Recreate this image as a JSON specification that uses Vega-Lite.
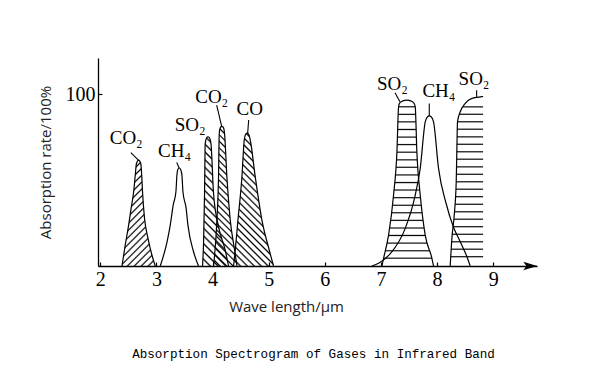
{
  "$schema": "https://vega.github.io/schema/vega-lite/v6.json",
  "width": 439,
  "height": 208,
  "autosize": {"type": "none"},
  "padding": {"left": 98, "top": 58, "right": 53, "bottom": 113},
  "background": "white",
  "config": {"view": {"stroke": null}},
  "title": {"text": "Absorption Spectrogram of Gases in Infrared Band", "orient": "bottom", "anchor": "middle", "font": "Liberation Mono", "fontSize": 12.6, "fontWeight": "normal", "color": "#000", "offset": 34, "dx": -4},
  "datasets": {
    "curves": [
      {"id": "CO2a", "x": 2.387, "y": 0}, {"id": "CO2a", "x": 2.445, "y": 12.2}, {"id": "CO2a", "x": 2.506, "y": 23.8}, {"id": "CO2a", "x": 2.55, "y": 33.5}, {"id": "CO2a", "x": 2.595, "y": 43.2}, {"id": "CO2a", "x": 2.624, "y": 52.9}, {"id": "CO2a", "x": 2.645, "y": 59.6}, {"id": "CO2a", "x": 2.684, "y": 61.6}, {"id": "CO2a", "x": 2.722, "y": 59.6}, {"id": "CO2a", "x": 2.74, "y": 52}, {"id": "CO2a", "x": 2.753, "y": 43.2}, {"id": "CO2a", "x": 2.789, "y": 27.7}, {"id": "CO2a", "x": 2.851, "y": 16.1}, {"id": "CO2a", "x": 2.92, "y": 6.4}, {"id": "CO2a", "x": 2.98, "y": 0},
      {"id": "CH4a", "x": 3.069, "y": 0}, {"id": "CH4a", "x": 3.19, "y": 14.1}, {"id": "CH4a", "x": 3.247, "y": 23.8}, {"id": "CH4a", "x": 3.30, "y": 35.5}, {"id": "CH4a", "x": 3.348, "y": 43.2}, {"id": "CH4a", "x": 3.366, "y": 52.9}, {"id": "CH4a", "x": 3.38, "y": 56}, {"id": "CH4a", "x": 3.407, "y": 57}, {"id": "CH4a", "x": 3.434, "y": 56}, {"id": "CH4a", "x": 3.455, "y": 52.9}, {"id": "CH4a", "x": 3.473, "y": 43.2}, {"id": "CH4a", "x": 3.53, "y": 33.5}, {"id": "CH4a", "x": 3.562, "y": 23.8}, {"id": "CH4a", "x": 3.662, "y": 8.3}, {"id": "CH4a", "x": 3.751, "y": 0},
      {"id": "SO2a", "x": 3.822, "y": 0}, {"id": "SO2a", "x": 3.84, "y": 13.2}, {"id": "SO2a", "x": 3.858, "y": 42.3}, {"id": "SO2a", "x": 3.87, "y": 71.3}, {"id": "SO2a", "x": 3.895, "y": 74.6}, {"id": "SO2a", "x": 3.918, "y": 75.2}, {"id": "SO2a", "x": 3.945, "y": 74.6}, {"id": "SO2a", "x": 3.972, "y": 71.3}, {"id": "SO2a", "x": 4.018, "y": 42.3}, {"id": "SO2a", "x": 4.107, "y": 22.9}, {"id": "SO2a", "x": 4.226, "y": 9.3}, {"id": "SO2a", "x": 4.285, "y": 0},
      {"id": "CO2b", "x": 4.018, "y": 0}, {"id": "CO2b", "x": 4.078, "y": 26.7}, {"id": "CO2b", "x": 4.107, "y": 51.9}, {"id": "CO2b", "x": 4.12, "y": 77.1}, {"id": "CO2b", "x": 4.14, "y": 80.5}, {"id": "CO2b", "x": 4.168, "y": 81.2}, {"id": "CO2b", "x": 4.195, "y": 80.5}, {"id": "CO2b", "x": 4.214, "y": 77.1}, {"id": "CO2b", "x": 4.256, "y": 51.9}, {"id": "CO2b", "x": 4.316, "y": 26.7}, {"id": "CO2b", "x": 4.393, "y": 9.3}, {"id": "CO2b", "x": 4.435, "y": 0},
      {"id": "CO", "x": 4.375, "y": 0}, {"id": "CO", "x": 4.405, "y": 9.3}, {"id": "CO", "x": 4.453, "y": 26.7}, {"id": "CO", "x": 4.524, "y": 51.9}, {"id": "CO", "x": 4.565, "y": 73.3}, {"id": "CO", "x": 4.59, "y": 76.6}, {"id": "CO", "x": 4.613, "y": 77.3}, {"id": "CO", "x": 4.645, "y": 76.6}, {"id": "CO", "x": 4.672, "y": 73.3}, {"id": "CO", "x": 4.761, "y": 51.9}, {"id": "CO", "x": 4.88, "y": 26.7}, {"id": "CO", "x": 5.01, "y": 9.3}, {"id": "CO", "x": 5.087, "y": 0},
      {"id": "SO2b", "x": 7.018, "y": 0}, {"id": "SO2b", "x": 7.047, "y": 4.5}, {"id": "SO2b", "x": 7.136, "y": 18}, {"id": "SO2b", "x": 7.225, "y": 41.3}, {"id": "SO2b", "x": 7.285, "y": 66.5}, {"id": "SO2b", "x": 7.314, "y": 92.6}, {"id": "SO2b", "x": 7.33, "y": 94.6}, {"id": "SO2b", "x": 7.38, "y": 95.9}, {"id": "SO2b", "x": 7.463, "y": 96.5}, {"id": "SO2b", "x": 7.54, "y": 95.9}, {"id": "SO2b", "x": 7.59, "y": 94.6}, {"id": "SO2b", "x": 7.611, "y": 92.6}, {"id": "SO2b", "x": 7.64, "y": 66.5}, {"id": "SO2b", "x": 7.70, "y": 41.3}, {"id": "SO2b", "x": 7.789, "y": 18}, {"id": "SO2b", "x": 7.908, "y": 4.5}, {"id": "SO2b", "x": 7.937, "y": 0},
      {"id": "CH4b", "x": 6.84, "y": 0}, {"id": "CH4b", "x": 6.958, "y": 1.6}, {"id": "CH4b", "x": 7.196, "y": 8.3}, {"id": "CH4b", "x": 7.433, "y": 21.9}, {"id": "CH4b", "x": 7.611, "y": 41.3}, {"id": "CH4b", "x": 7.70, "y": 56.8}, {"id": "CH4b", "x": 7.789, "y": 83.9}, {"id": "CH4b", "x": 7.83, "y": 86.8}, {"id": "CH4b", "x": 7.86, "y": 87.3}, {"id": "CH4b", "x": 7.895, "y": 86.8}, {"id": "CH4b", "x": 7.937, "y": 83.9}, {"id": "CH4b", "x": 8.026, "y": 56.8}, {"id": "CH4b", "x": 8.16, "y": 36.5}, {"id": "CH4b", "x": 8.293, "y": 22.5}, {"id": "CH4b", "x": 8.413, "y": 14.1}, {"id": "CH4b", "x": 8.532, "y": 5.4}, {"id": "CH4b", "x": 8.59, "y": 0},
      {"id": "SO2c", "x": 8.234, "y": 0}, {"id": "SO2c", "x": 8.264, "y": 16.1}, {"id": "SO2c", "x": 8.306, "y": 29.7}, {"id": "SO2c", "x": 8.341, "y": 49}, {"id": "SO2c", "x": 8.353, "y": 68.4}, {"id": "SO2c", "x": 8.364, "y": 83.9}, {"id": "SO2c", "x": 8.413, "y": 89.7}, {"id": "SO2c", "x": 8.502, "y": 94.6}, {"id": "SO2c", "x": 8.621, "y": 97.5}, {"id": "SO2c", "x": 8.80, "y": 98.5}, {"id": "SO2c", "x": 8.82, "y": 98.6}
    ],
    "labels": [
      {"label": "CO₂", "x": 2.463, "y": 70.9},
      {"label": "CH₄", "x": 3.324, "y": 63.5},
      {"label": "SO₂", "x": 3.603, "y": 78.7},
      {"label": "CO₂", "x": 3.986, "y": 94.6},
      {"label": "CO", "x": 4.663, "y": 87.8},
      {"label": "SO₂", "x": 7.205, "y": 102.3},
      {"label": "CH₄", "x": 8.033, "y": 98.1},
      {"label": "SO₂", "x": 8.658, "y": 105.2}
    ],
    "leaders": [
      {"x": 2.545, "y": 66.0, "x2": 2.68, "y2": 61.6},
      {"x": 3.362, "y": 60.3, "x2": 3.405, "y2": 57.0},
      {"x": 4.074, "y": 93.6, "x2": 4.163, "y2": 81.2},
      {"x": 4.644, "y": 84.9, "x2": 4.626, "y2": 77.3},
      {"x": 7.25, "y": 100.8, "x2": 7.339, "y2": 95.5},
      {"x": 7.861, "y": 94.6, "x2": 7.861, "y2": 87.3},
      {"x": 8.705, "y": 102.3, "x2": 8.705, "y2": 98.2}
    ],
    "arrow": [{"x": 9.66, "y": 0}]
  },
  "data": {"name": "curves"},
  "encoding": {
    "x": {"field": "x", "type": "quantitative",
      "scale": {"domain": [1.96, 9.78], "nice": false, "zero": false},
      "axis": {"values": [2, 3, 4, 5, 6, 7, 8, 9], "title": "Wave length/μm", "grid": false, "tickSize": -4, "tickColor": "#000", "tickWidth": 1.2, "domainColor": "#000", "domainWidth": 1.3, "labelFont": "Liberation Serif", "labelFontSize": 20, "labelColor": "#000", "labelPadding": 7, "labelFlush": false, "labelOverlap": false, "titleFont": "Open Sans", "titleFontSize": 15, "titleFontWeight": "normal", "titleColor": "#222", "titleX": 188, "titleY": 45, "titleBaseline": "alphabetic", "titleAlign": "center", "titleAnchor": null}},
    "y": {"field": "y", "type": "quantitative",
      "scale": {"domain": [0, 121], "nice": false},
      "axis": {"values": [100], "title": "Absorption rate/100%", "grid": false, "tickSize": -4, "tickColor": "#000", "tickWidth": 1.2, "domainColor": "#000", "domainWidth": 1.3, "labelFont": "Liberation Serif", "labelFontSize": 20, "labelColor": "#000", "labelPadding": 7, "labelFlush": false, "titleFont": "Open Sans", "titleFontSize": 15, "titleFontWeight": "normal", "titleColor": "#222", "titleX": -47.5, "titleY": 104, "titleAngle": -90, "titleBaseline": "alphabetic", "titleAlign": "center", "titleAnchor": null}}
  },
  "layer": [
    {"transform": [{"filter": "datum.id === 'CO2a'"}],
     "mark": {"type": "area", "interpolate": "monotone", "color": {"gradient": "linear", "x1": 0, "y1": 0, "x2": 0.376, "y2": 1.196, "stops": [
      {"offset": 0, "color": "rgba(0,0,0,0)"},
      {"offset": 0.038, "color": "rgba(0,0,0,0)"}, {"offset": 0.05, "color": "#000"}, {"offset": 0.062, "color": "rgba(0,0,0,0)"},
      {"offset": 0.088, "color": "rgba(0,0,0,0)"}, {"offset": 0.1, "color": "#000"}, {"offset": 0.112, "color": "rgba(0,0,0,0)"},
      {"offset": 0.138, "color": "rgba(0,0,0,0)"}, {"offset": 0.15, "color": "#000"}, {"offset": 0.162, "color": "rgba(0,0,0,0)"},
      {"offset": 0.188, "color": "rgba(0,0,0,0)"}, {"offset": 0.2, "color": "#000"}, {"offset": 0.212, "color": "rgba(0,0,0,0)"},
      {"offset": 0.238, "color": "rgba(0,0,0,0)"}, {"offset": 0.25, "color": "#000"}, {"offset": 0.262, "color": "rgba(0,0,0,0)"},
      {"offset": 0.288, "color": "rgba(0,0,0,0)"}, {"offset": 0.3, "color": "#000"}, {"offset": 0.312, "color": "rgba(0,0,0,0)"},
      {"offset": 0.338, "color": "rgba(0,0,0,0)"}, {"offset": 0.35, "color": "#000"}, {"offset": 0.362, "color": "rgba(0,0,0,0)"},
      {"offset": 0.388, "color": "rgba(0,0,0,0)"}, {"offset": 0.4, "color": "#000"}, {"offset": 0.412, "color": "rgba(0,0,0,0)"},
      {"offset": 0.438, "color": "rgba(0,0,0,0)"}, {"offset": 0.45, "color": "#000"}, {"offset": 0.462, "color": "rgba(0,0,0,0)"},
      {"offset": 0.488, "color": "rgba(0,0,0,0)"}, {"offset": 0.5, "color": "#000"}, {"offset": 0.512, "color": "rgba(0,0,0,0)"},
      {"offset": 0.538, "color": "rgba(0,0,0,0)"}, {"offset": 0.55, "color": "#000"}, {"offset": 0.562, "color": "rgba(0,0,0,0)"},
      {"offset": 0.588, "color": "rgba(0,0,0,0)"}, {"offset": 0.6, "color": "#000"}, {"offset": 0.612, "color": "rgba(0,0,0,0)"},
      {"offset": 0.638, "color": "rgba(0,0,0,0)"}, {"offset": 0.65, "color": "#000"}, {"offset": 0.662, "color": "rgba(0,0,0,0)"},
      {"offset": 0.688, "color": "rgba(0,0,0,0)"}, {"offset": 0.7, "color": "#000"}, {"offset": 0.712, "color": "rgba(0,0,0,0)"},
      {"offset": 0.738, "color": "rgba(0,0,0,0)"}, {"offset": 0.75, "color": "#000"}, {"offset": 0.762, "color": "rgba(0,0,0,0)"},
      {"offset": 0.788, "color": "rgba(0,0,0,0)"}, {"offset": 0.8, "color": "#000"}, {"offset": 0.812, "color": "rgba(0,0,0,0)"},
      {"offset": 0.838, "color": "rgba(0,0,0,0)"}, {"offset": 0.85, "color": "#000"}, {"offset": 0.862, "color": "rgba(0,0,0,0)"},
      {"offset": 0.888, "color": "rgba(0,0,0,0)"}, {"offset": 0.9, "color": "#000"}, {"offset": 0.912, "color": "rgba(0,0,0,0)"},
      {"offset": 0.938, "color": "rgba(0,0,0,0)"}, {"offset": 0.95, "color": "#000"}, {"offset": 0.962, "color": "rgba(0,0,0,0)"},
      {"offset": 1, "color": "rgba(0,0,0,0)"}]}}},
    {"transform": [{"filter": "datum.id === 'SO2a'"}],
     "mark": {"type": "area", "interpolate": "monotone", "color": {"gradient": "linear", "x1": 0, "y1": 1, "x2": 0.232, "y2": -0.155, "stops": [
      {"offset": 0, "color": "rgba(0,0,0,0)"},
      {"offset": 0.038, "color": "rgba(0,0,0,0)"}, {"offset": 0.05, "color": "#000"}, {"offset": 0.062, "color": "rgba(0,0,0,0)"},
      {"offset": 0.088, "color": "rgba(0,0,0,0)"}, {"offset": 0.1, "color": "#000"}, {"offset": 0.112, "color": "rgba(0,0,0,0)"},
      {"offset": 0.138, "color": "rgba(0,0,0,0)"}, {"offset": 0.15, "color": "#000"}, {"offset": 0.162, "color": "rgba(0,0,0,0)"},
      {"offset": 0.188, "color": "rgba(0,0,0,0)"}, {"offset": 0.2, "color": "#000"}, {"offset": 0.212, "color": "rgba(0,0,0,0)"},
      {"offset": 0.238, "color": "rgba(0,0,0,0)"}, {"offset": 0.25, "color": "#000"}, {"offset": 0.262, "color": "rgba(0,0,0,0)"},
      {"offset": 0.288, "color": "rgba(0,0,0,0)"}, {"offset": 0.3, "color": "#000"}, {"offset": 0.312, "color": "rgba(0,0,0,0)"},
      {"offset": 0.338, "color": "rgba(0,0,0,0)"}, {"offset": 0.35, "color": "#000"}, {"offset": 0.362, "color": "rgba(0,0,0,0)"},
      {"offset": 0.388, "color": "rgba(0,0,0,0)"}, {"offset": 0.4, "color": "#000"}, {"offset": 0.412, "color": "rgba(0,0,0,0)"},
      {"offset": 0.438, "color": "rgba(0,0,0,0)"}, {"offset": 0.45, "color": "#000"}, {"offset": 0.462, "color": "rgba(0,0,0,0)"},
      {"offset": 0.488, "color": "rgba(0,0,0,0)"}, {"offset": 0.5, "color": "#000"}, {"offset": 0.512, "color": "rgba(0,0,0,0)"},
      {"offset": 0.538, "color": "rgba(0,0,0,0)"}, {"offset": 0.55, "color": "#000"}, {"offset": 0.562, "color": "rgba(0,0,0,0)"},
      {"offset": 0.588, "color": "rgba(0,0,0,0)"}, {"offset": 0.6, "color": "#000"}, {"offset": 0.612, "color": "rgba(0,0,0,0)"},
      {"offset": 0.638, "color": "rgba(0,0,0,0)"}, {"offset": 0.65, "color": "#000"}, {"offset": 0.662, "color": "rgba(0,0,0,0)"},
      {"offset": 0.688, "color": "rgba(0,0,0,0)"}, {"offset": 0.7, "color": "#000"}, {"offset": 0.712, "color": "rgba(0,0,0,0)"},
      {"offset": 0.738, "color": "rgba(0,0,0,0)"}, {"offset": 0.75, "color": "#000"}, {"offset": 0.762, "color": "rgba(0,0,0,0)"},
      {"offset": 0.788, "color": "rgba(0,0,0,0)"}, {"offset": 0.8, "color": "#000"}, {"offset": 0.812, "color": "rgba(0,0,0,0)"},
      {"offset": 0.838, "color": "rgba(0,0,0,0)"}, {"offset": 0.85, "color": "#000"}, {"offset": 0.862, "color": "rgba(0,0,0,0)"},
      {"offset": 0.888, "color": "rgba(0,0,0,0)"}, {"offset": 0.9, "color": "#000"}, {"offset": 0.912, "color": "rgba(0,0,0,0)"},
      {"offset": 0.938, "color": "rgba(0,0,0,0)"}, {"offset": 0.95, "color": "#000"}, {"offset": 0.962, "color": "rgba(0,0,0,0)"},
      {"offset": 1, "color": "rgba(0,0,0,0)"}]}}},
    {"transform": [{"filter": "datum.id === 'CO2b'"}],
     "mark": {"type": "area", "interpolate": "monotone", "color": {"gradient": "linear", "x1": 0, "y1": 1, "x2": 0.19, "y2": -0.136, "stops": [
      {"offset": 0, "color": "rgba(0,0,0,0)"},
      {"offset": 0.03, "color": "rgba(0,0,0,0)"}, {"offset": 0.04, "color": "#000"}, {"offset": 0.05, "color": "rgba(0,0,0,0)"},
      {"offset": 0.07, "color": "rgba(0,0,0,0)"}, {"offset": 0.08, "color": "#000"}, {"offset": 0.09, "color": "rgba(0,0,0,0)"},
      {"offset": 0.11, "color": "rgba(0,0,0,0)"}, {"offset": 0.12, "color": "#000"}, {"offset": 0.13, "color": "rgba(0,0,0,0)"},
      {"offset": 0.15, "color": "rgba(0,0,0,0)"}, {"offset": 0.16, "color": "#000"}, {"offset": 0.17, "color": "rgba(0,0,0,0)"},
      {"offset": 0.19, "color": "rgba(0,0,0,0)"}, {"offset": 0.2, "color": "#000"}, {"offset": 0.21, "color": "rgba(0,0,0,0)"},
      {"offset": 0.23, "color": "rgba(0,0,0,0)"}, {"offset": 0.24, "color": "#000"}, {"offset": 0.25, "color": "rgba(0,0,0,0)"},
      {"offset": 0.27, "color": "rgba(0,0,0,0)"}, {"offset": 0.28, "color": "#000"}, {"offset": 0.29, "color": "rgba(0,0,0,0)"},
      {"offset": 0.31, "color": "rgba(0,0,0,0)"}, {"offset": 0.32, "color": "#000"}, {"offset": 0.33, "color": "rgba(0,0,0,0)"},
      {"offset": 0.35, "color": "rgba(0,0,0,0)"}, {"offset": 0.36, "color": "#000"}, {"offset": 0.37, "color": "rgba(0,0,0,0)"},
      {"offset": 0.39, "color": "rgba(0,0,0,0)"}, {"offset": 0.4, "color": "#000"}, {"offset": 0.41, "color": "rgba(0,0,0,0)"},
      {"offset": 0.43, "color": "rgba(0,0,0,0)"}, {"offset": 0.44, "color": "#000"}, {"offset": 0.45, "color": "rgba(0,0,0,0)"},
      {"offset": 0.47, "color": "rgba(0,0,0,0)"}, {"offset": 0.48, "color": "#000"}, {"offset": 0.49, "color": "rgba(0,0,0,0)"},
      {"offset": 0.51, "color": "rgba(0,0,0,0)"}, {"offset": 0.52, "color": "#000"}, {"offset": 0.53, "color": "rgba(0,0,0,0)"},
      {"offset": 0.55, "color": "rgba(0,0,0,0)"}, {"offset": 0.56, "color": "#000"}, {"offset": 0.57, "color": "rgba(0,0,0,0)"},
      {"offset": 0.59, "color": "rgba(0,0,0,0)"}, {"offset": 0.6, "color": "#000"}, {"offset": 0.61, "color": "rgba(0,0,0,0)"},
      {"offset": 0.63, "color": "rgba(0,0,0,0)"}, {"offset": 0.64, "color": "#000"}, {"offset": 0.65, "color": "rgba(0,0,0,0)"},
      {"offset": 0.67, "color": "rgba(0,0,0,0)"}, {"offset": 0.68, "color": "#000"}, {"offset": 0.69, "color": "rgba(0,0,0,0)"},
      {"offset": 0.71, "color": "rgba(0,0,0,0)"}, {"offset": 0.72, "color": "#000"}, {"offset": 0.73, "color": "rgba(0,0,0,0)"},
      {"offset": 0.75, "color": "rgba(0,0,0,0)"}, {"offset": 0.76, "color": "#000"}, {"offset": 0.77, "color": "rgba(0,0,0,0)"},
      {"offset": 0.79, "color": "rgba(0,0,0,0)"}, {"offset": 0.8, "color": "#000"}, {"offset": 0.81, "color": "rgba(0,0,0,0)"},
      {"offset": 0.83, "color": "rgba(0,0,0,0)"}, {"offset": 0.84, "color": "#000"}, {"offset": 0.85, "color": "rgba(0,0,0,0)"},
      {"offset": 0.87, "color": "rgba(0,0,0,0)"}, {"offset": 0.88, "color": "#000"}, {"offset": 0.89, "color": "rgba(0,0,0,0)"},
      {"offset": 0.91, "color": "rgba(0,0,0,0)"}, {"offset": 0.92, "color": "#000"}, {"offset": 0.93, "color": "rgba(0,0,0,0)"},
      {"offset": 0.95, "color": "rgba(0,0,0,0)"}, {"offset": 0.96, "color": "#000"}, {"offset": 0.97, "color": "rgba(0,0,0,0)"},
      {"offset": 1, "color": "rgba(0,0,0,0)"}]}}},
    {"transform": [{"filter": "datum.id === 'CO'"}],
     "mark": {"type": "area", "interpolate": "monotone", "color": {"gradient": "linear", "x1": 0, "y1": 1, "x2": 0.359, "y2": -0.193, "stops": [
      {"offset": 0, "color": "rgba(0,0,0,0)"},
      {"offset": 0.03, "color": "rgba(0,0,0,0)"}, {"offset": 0.04, "color": "#000"}, {"offset": 0.05, "color": "rgba(0,0,0,0)"},
      {"offset": 0.07, "color": "rgba(0,0,0,0)"}, {"offset": 0.08, "color": "#000"}, {"offset": 0.09, "color": "rgba(0,0,0,0)"},
      {"offset": 0.11, "color": "rgba(0,0,0,0)"}, {"offset": 0.12, "color": "#000"}, {"offset": 0.13, "color": "rgba(0,0,0,0)"},
      {"offset": 0.15, "color": "rgba(0,0,0,0)"}, {"offset": 0.16, "color": "#000"}, {"offset": 0.17, "color": "rgba(0,0,0,0)"},
      {"offset": 0.19, "color": "rgba(0,0,0,0)"}, {"offset": 0.2, "color": "#000"}, {"offset": 0.21, "color": "rgba(0,0,0,0)"},
      {"offset": 0.23, "color": "rgba(0,0,0,0)"}, {"offset": 0.24, "color": "#000"}, {"offset": 0.25, "color": "rgba(0,0,0,0)"},
      {"offset": 0.27, "color": "rgba(0,0,0,0)"}, {"offset": 0.28, "color": "#000"}, {"offset": 0.29, "color": "rgba(0,0,0,0)"},
      {"offset": 0.31, "color": "rgba(0,0,0,0)"}, {"offset": 0.32, "color": "#000"}, {"offset": 0.33, "color": "rgba(0,0,0,0)"},
      {"offset": 0.35, "color": "rgba(0,0,0,0)"}, {"offset": 0.36, "color": "#000"}, {"offset": 0.37, "color": "rgba(0,0,0,0)"},
      {"offset": 0.39, "color": "rgba(0,0,0,0)"}, {"offset": 0.4, "color": "#000"}, {"offset": 0.41, "color": "rgba(0,0,0,0)"},
      {"offset": 0.43, "color": "rgba(0,0,0,0)"}, {"offset": 0.44, "color": "#000"}, {"offset": 0.45, "color": "rgba(0,0,0,0)"},
      {"offset": 0.47, "color": "rgba(0,0,0,0)"}, {"offset": 0.48, "color": "#000"}, {"offset": 0.49, "color": "rgba(0,0,0,0)"},
      {"offset": 0.51, "color": "rgba(0,0,0,0)"}, {"offset": 0.52, "color": "#000"}, {"offset": 0.53, "color": "rgba(0,0,0,0)"},
      {"offset": 0.55, "color": "rgba(0,0,0,0)"}, {"offset": 0.56, "color": "#000"}, {"offset": 0.57, "color": "rgba(0,0,0,0)"},
      {"offset": 0.59, "color": "rgba(0,0,0,0)"}, {"offset": 0.6, "color": "#000"}, {"offset": 0.61, "color": "rgba(0,0,0,0)"},
      {"offset": 0.63, "color": "rgba(0,0,0,0)"}, {"offset": 0.64, "color": "#000"}, {"offset": 0.65, "color": "rgba(0,0,0,0)"},
      {"offset": 0.67, "color": "rgba(0,0,0,0)"}, {"offset": 0.68, "color": "#000"}, {"offset": 0.69, "color": "rgba(0,0,0,0)"},
      {"offset": 0.71, "color": "rgba(0,0,0,0)"}, {"offset": 0.72, "color": "#000"}, {"offset": 0.73, "color": "rgba(0,0,0,0)"},
      {"offset": 0.75, "color": "rgba(0,0,0,0)"}, {"offset": 0.76, "color": "#000"}, {"offset": 0.77, "color": "rgba(0,0,0,0)"},
      {"offset": 0.79, "color": "rgba(0,0,0,0)"}, {"offset": 0.8, "color": "#000"}, {"offset": 0.81, "color": "rgba(0,0,0,0)"},
      {"offset": 0.83, "color": "rgba(0,0,0,0)"}, {"offset": 0.84, "color": "#000"}, {"offset": 0.85, "color": "rgba(0,0,0,0)"},
      {"offset": 0.87, "color": "rgba(0,0,0,0)"}, {"offset": 0.88, "color": "#000"}, {"offset": 0.89, "color": "rgba(0,0,0,0)"},
      {"offset": 0.91, "color": "rgba(0,0,0,0)"}, {"offset": 0.92, "color": "#000"}, {"offset": 0.93, "color": "rgba(0,0,0,0)"},
      {"offset": 0.95, "color": "rgba(0,0,0,0)"}, {"offset": 0.96, "color": "#000"}, {"offset": 0.97, "color": "rgba(0,0,0,0)"},
      {"offset": 1, "color": "rgba(0,0,0,0)"}]}}},
    {"transform": [{"filter": "datum.id === 'SO2b'"}],
     "mark": {"type": "area", "interpolate": "monotone", "color": {"gradient": "linear", "x1": 0, "y1": 0, "x2": 0, "y2": 1, "stops": [
      {"offset": 0, "color": "rgba(0,0,0,0)"},
      {"offset": 0.033, "color": "rgba(0,0,0,0)"}, {"offset": 0.04, "color": "#000"}, {"offset": 0.047, "color": "rgba(0,0,0,0)"},
      {"offset": 0.079, "color": "rgba(0,0,0,0)"}, {"offset": 0.086, "color": "#000"}, {"offset": 0.093, "color": "rgba(0,0,0,0)"},
      {"offset": 0.124, "color": "rgba(0,0,0,0)"}, {"offset": 0.131, "color": "#000"}, {"offset": 0.138, "color": "rgba(0,0,0,0)"},
      {"offset": 0.17, "color": "rgba(0,0,0,0)"}, {"offset": 0.177, "color": "#000"}, {"offset": 0.184, "color": "rgba(0,0,0,0)"},
      {"offset": 0.216, "color": "rgba(0,0,0,0)"}, {"offset": 0.223, "color": "#000"}, {"offset": 0.23, "color": "rgba(0,0,0,0)"},
      {"offset": 0.261, "color": "rgba(0,0,0,0)"}, {"offset": 0.268, "color": "#000"}, {"offset": 0.275, "color": "rgba(0,0,0,0)"},
      {"offset": 0.307, "color": "rgba(0,0,0,0)"}, {"offset": 0.314, "color": "#000"}, {"offset": 0.321, "color": "rgba(0,0,0,0)"},
      {"offset": 0.353, "color": "rgba(0,0,0,0)"}, {"offset": 0.36, "color": "#000"}, {"offset": 0.367, "color": "rgba(0,0,0,0)"},
      {"offset": 0.398, "color": "rgba(0,0,0,0)"}, {"offset": 0.405, "color": "#000"}, {"offset": 0.412, "color": "rgba(0,0,0,0)"},
      {"offset": 0.444, "color": "rgba(0,0,0,0)"}, {"offset": 0.451, "color": "#000"}, {"offset": 0.458, "color": "rgba(0,0,0,0)"},
      {"offset": 0.49, "color": "rgba(0,0,0,0)"}, {"offset": 0.497, "color": "#000"}, {"offset": 0.504, "color": "rgba(0,0,0,0)"},
      {"offset": 0.535, "color": "rgba(0,0,0,0)"}, {"offset": 0.542, "color": "#000"}, {"offset": 0.549, "color": "rgba(0,0,0,0)"},
      {"offset": 0.581, "color": "rgba(0,0,0,0)"}, {"offset": 0.588, "color": "#000"}, {"offset": 0.595, "color": "rgba(0,0,0,0)"},
      {"offset": 0.627, "color": "rgba(0,0,0,0)"}, {"offset": 0.634, "color": "#000"}, {"offset": 0.641, "color": "rgba(0,0,0,0)"},
      {"offset": 0.672, "color": "rgba(0,0,0,0)"}, {"offset": 0.679, "color": "#000"}, {"offset": 0.686, "color": "rgba(0,0,0,0)"},
      {"offset": 0.718, "color": "rgba(0,0,0,0)"}, {"offset": 0.725, "color": "#000"}, {"offset": 0.732, "color": "rgba(0,0,0,0)"},
      {"offset": 0.764, "color": "rgba(0,0,0,0)"}, {"offset": 0.771, "color": "#000"}, {"offset": 0.778, "color": "rgba(0,0,0,0)"},
      {"offset": 0.809, "color": "rgba(0,0,0,0)"}, {"offset": 0.816, "color": "#000"}, {"offset": 0.823, "color": "rgba(0,0,0,0)"},
      {"offset": 0.855, "color": "rgba(0,0,0,0)"}, {"offset": 0.862, "color": "#000"}, {"offset": 0.869, "color": "rgba(0,0,0,0)"},
      {"offset": 0.901, "color": "rgba(0,0,0,0)"}, {"offset": 0.908, "color": "#000"}, {"offset": 0.915, "color": "rgba(0,0,0,0)"},
      {"offset": 0.946, "color": "rgba(0,0,0,0)"}, {"offset": 0.953, "color": "#000"}, {"offset": 0.96, "color": "rgba(0,0,0,0)"},
      {"offset": 1, "color": "rgba(0,0,0,0)"}]}}},
    {"transform": [{"filter": "datum.id === 'SO2c'"}],
     "mark": {"type": "area", "interpolate": "monotone", "color": {"gradient": "linear", "x1": 0, "y1": 0, "x2": 0, "y2": 1, "stops": [
      {"offset": 0, "color": "rgba(0,0,0,0)"},
      {"offset": 0.054, "color": "rgba(0,0,0,0)"}, {"offset": 0.061, "color": "#000"}, {"offset": 0.068, "color": "rgba(0,0,0,0)"},
      {"offset": 0.098, "color": "rgba(0,0,0,0)"}, {"offset": 0.105, "color": "#000"}, {"offset": 0.112, "color": "rgba(0,0,0,0)"},
      {"offset": 0.142, "color": "rgba(0,0,0,0)"}, {"offset": 0.149, "color": "#000"}, {"offset": 0.156, "color": "rgba(0,0,0,0)"},
      {"offset": 0.186, "color": "rgba(0,0,0,0)"}, {"offset": 0.193, "color": "#000"}, {"offset": 0.2, "color": "rgba(0,0,0,0)"},
      {"offset": 0.231, "color": "rgba(0,0,0,0)"}, {"offset": 0.238, "color": "#000"}, {"offset": 0.245, "color": "rgba(0,0,0,0)"},
      {"offset": 0.275, "color": "rgba(0,0,0,0)"}, {"offset": 0.282, "color": "#000"}, {"offset": 0.289, "color": "rgba(0,0,0,0)"},
      {"offset": 0.319, "color": "rgba(0,0,0,0)"}, {"offset": 0.326, "color": "#000"}, {"offset": 0.333, "color": "rgba(0,0,0,0)"},
      {"offset": 0.363, "color": "rgba(0,0,0,0)"}, {"offset": 0.37, "color": "#000"}, {"offset": 0.377, "color": "rgba(0,0,0,0)"},
      {"offset": 0.408, "color": "rgba(0,0,0,0)"}, {"offset": 0.415, "color": "#000"}, {"offset": 0.422, "color": "rgba(0,0,0,0)"},
      {"offset": 0.452, "color": "rgba(0,0,0,0)"}, {"offset": 0.459, "color": "#000"}, {"offset": 0.466, "color": "rgba(0,0,0,0)"},
      {"offset": 0.496, "color": "rgba(0,0,0,0)"}, {"offset": 0.503, "color": "#000"}, {"offset": 0.51, "color": "rgba(0,0,0,0)"},
      {"offset": 0.54, "color": "rgba(0,0,0,0)"}, {"offset": 0.547, "color": "#000"}, {"offset": 0.554, "color": "rgba(0,0,0,0)"},
      {"offset": 0.584, "color": "rgba(0,0,0,0)"}, {"offset": 0.591, "color": "#000"}, {"offset": 0.598, "color": "rgba(0,0,0,0)"},
      {"offset": 0.629, "color": "rgba(0,0,0,0)"}, {"offset": 0.636, "color": "#000"}, {"offset": 0.643, "color": "rgba(0,0,0,0)"},
      {"offset": 0.673, "color": "rgba(0,0,0,0)"}, {"offset": 0.68, "color": "#000"}, {"offset": 0.687, "color": "rgba(0,0,0,0)"},
      {"offset": 0.717, "color": "rgba(0,0,0,0)"}, {"offset": 0.724, "color": "#000"}, {"offset": 0.731, "color": "rgba(0,0,0,0)"},
      {"offset": 0.761, "color": "rgba(0,0,0,0)"}, {"offset": 0.768, "color": "#000"}, {"offset": 0.775, "color": "rgba(0,0,0,0)"},
      {"offset": 0.806, "color": "rgba(0,0,0,0)"}, {"offset": 0.813, "color": "#000"}, {"offset": 0.82, "color": "rgba(0,0,0,0)"},
      {"offset": 0.85, "color": "rgba(0,0,0,0)"}, {"offset": 0.857, "color": "#000"}, {"offset": 0.864, "color": "rgba(0,0,0,0)"},
      {"offset": 0.894, "color": "rgba(0,0,0,0)"}, {"offset": 0.901, "color": "#000"}, {"offset": 0.908, "color": "rgba(0,0,0,0)"},
      {"offset": 0.938, "color": "rgba(0,0,0,0)"}, {"offset": 0.945, "color": "#000"}, {"offset": 0.952, "color": "rgba(0,0,0,0)"},
      {"offset": 1, "color": "rgba(0,0,0,0)"}]}}},
    {"mark": {"type": "line", "interpolate": "monotone", "color": "#000", "strokeWidth": 1.2},
     "encoding": {"detail": {"field": "id", "type": "nominal"}}},
    {"data": {"name": "leaders"},
     "mark": {"type": "rule", "color": "#000", "strokeWidth": 1.1},
     "encoding": {"x2": {"field": "x2"}, "y2": {"field": "y2"}}},
    {"data": {"name": "labels"},
     "mark": {"type": "text", "font": "Liberation Serif, DejaVu Serif, serif", "fontSize": 19, "color": "#000", "align": "center", "baseline": "alphabetic"},
     "encoding": {"text": {"field": "label", "type": "nominal"}}},
    {"data": {"name": "arrow"},
     "mark": {"type": "point", "shape": "M1,0L-1,-0.62L-0.55,0L-1,0.62Z", "size": 196, "filled": true, "color": "#000", "opacity": 1, "strokeWidth": 0}}
  ]
}
